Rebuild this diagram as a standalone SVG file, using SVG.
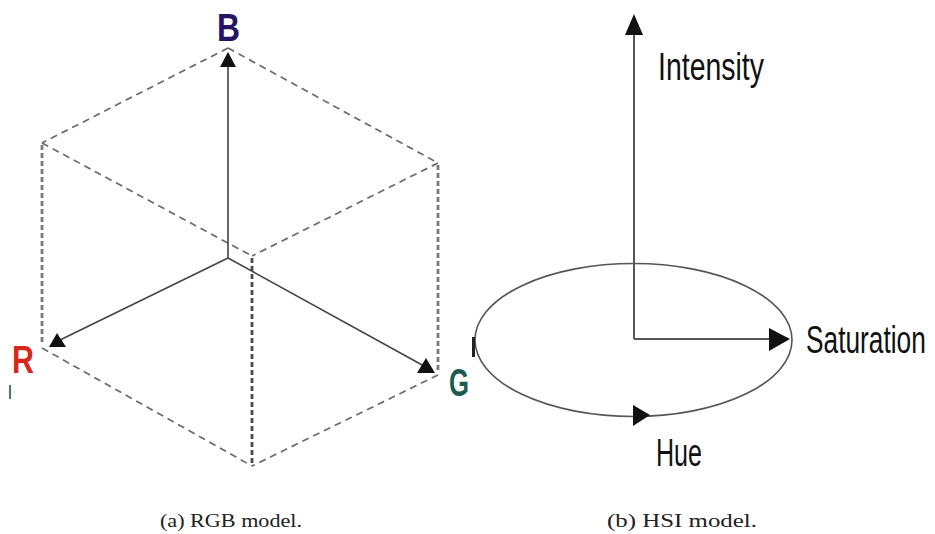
<svg xmlns="http://www.w3.org/2000/svg" width="935" height="534" viewBox="0 0 935 534">
<style>
.dash{fill:none;stroke:#6a6a6a;stroke-width:1.7;stroke-dasharray:7,5}
.vdash{fill:none;stroke:#7a7a7a;stroke-width:2.8;stroke-dasharray:5,3}
.axis{fill:none;stroke:#444;stroke-width:1.6}
.haxis{fill:none;stroke:#555;stroke-width:2}
.head{fill:#111}
.lbl{font-family:"Liberation Sans",Arial,sans-serif;font-weight:bold}
.hlbl{font-family:"Liberation Sans",Arial,sans-serif;fill:#111}
.cap{font-family:"Liberation Serif","Times New Roman",serif;font-size:19px;fill:#222}
</style>
<rect width="935" height="534" fill="#fff"/>
<g id="rgb-cube">
<path class="dash" d="M228,48 L42,143 M228,48 L438,163 M42,143 L252,256 M438,163 L252,256 M42,348 L252,466 M438,375 L252,466"/>
<path class="vdash" d="M42,145 L42,345 M438,165 L438,372"/>
<path class="vdash" style="stroke:#4a4a4a" d="M252,258 L252,466"/>
</g>
<g id="connectors">
<path class="axis" d="M228,258 L228,62 M228,258 L60,340 M228,258 L424,366"/>
<polygon class="head" points="228,52 220,67 236,67"/>
<polygon class="head" points="57,333 49,347 66,347"/>
<polygon class="head" points="426,358 417,373 435,373"/>
<path class="haxis" d="M634,339 L634,30 M634,339 L775,339"/>
<polygon class="head" points="634,14 625,35 643,35"/>
<polygon class="head" points="790,339 769,328 769,351"/>
</g>
<g id="hue-circle">
<ellipse cx="633.5" cy="340" rx="158.5" ry="76.5" fill="none" stroke="#555" stroke-width="1.6"/>
<polygon class="head" points="650,415 633,405 633,426"/>
</g>
<g id="label-B"><text class="lbl" x="217" y="41" font-size="38" fill="#241462" textLength="23" lengthAdjust="spacingAndGlyphs">B</text></g>
<g id="label-R"><text class="lbl" x="12" y="373" font-size="38" fill="#d8281c" textLength="22" lengthAdjust="spacingAndGlyphs">R</text></g>
<g id="label-G"><text class="lbl" x="449" y="396" font-size="39" fill="#1d5a52" textLength="20" lengthAdjust="spacingAndGlyphs">G</text></g>
<line x1="10" y1="385" x2="10" y2="399" stroke="#3f7f74" stroke-width="2"/>
<rect x="472" y="337" width="3" height="20" fill="#222"/>
<g id="label-intensity"><text class="hlbl" x="658" y="80" font-size="39" textLength="106" lengthAdjust="spacingAndGlyphs">Intensity</text></g>
<g id="label-saturation"><text class="hlbl" transform="translate(806,353) scale(0.674,1)" x="0" y="0" font-size="39">Saturation</text></g>
<g id="label-hue"><text class="hlbl" x="656" y="466" font-size="39" textLength="46" lengthAdjust="spacingAndGlyphs">Hue</text></g>
<g id="caption-a"><text class="cap" x="160" y="527" textLength="142" lengthAdjust="spacingAndGlyphs">(a) RGB model.</text></g>
<g id="caption-b"><text class="cap" x="607" y="527" textLength="150" lengthAdjust="spacingAndGlyphs">(b) HSI model.</text></g>
</svg>
